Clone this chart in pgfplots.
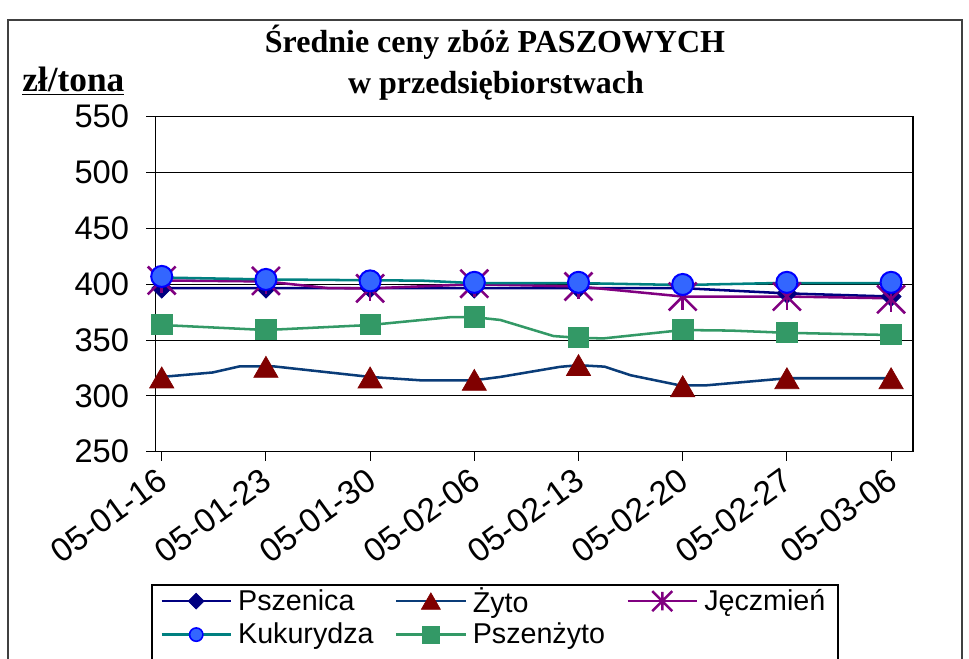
\documentclass[border=0pt]{standalone}
\usepackage{pgfplots}
\pgfplotsset{compat=1.18}
\usepackage{fontspec}
\setmainfont{Liberation Serif}
\newfontfamily\arial{Liberation Sans}

\definecolor{cPsz}{HTML}{000080}
\definecolor{cZytoL}{HTML}{0A3C78}
\definecolor{cZytoM}{HTML}{800000}
\definecolor{cJecz}{HTML}{800080}
\definecolor{cKukL}{HTML}{008080}
\definecolor{cKukM}{HTML}{3366FF}
\definecolor{cKukB}{HTML}{0000FF}
\definecolor{cPszz}{HTML}{339966}

\begin{document}
\begin{tikzpicture}
\useasboundingbox (0,0) rectangle (726.75pt,493.5pt);
\clip (0,0) rectangle (726.75pt,493.5pt);

% outer frame (bottom cut off)
\draw[black!75, line width=1.2pt] (6pt,-20pt) -- (6pt,478.5pt) -- (721.5pt,478.5pt) -- (721.5pt,-20pt);

% titles
\node[anchor=base, font=\bfseries\fontsize{24}{24}\selectfont, inner sep=0pt]
  at (371.25pt,453.75pt) {Średnie ceny zbóż PASZOWYCH};
\node[anchor=base, font=\bfseries\fontsize{24}{24}\selectfont, inner sep=0pt]
  at (372pt,423.5pt) {w przedsiębiorstwach};
\node[anchor=base west, font=\bfseries\fontsize{26.5}{26.5}\selectfont, inner sep=0pt]
  at (16.5pt,424.5pt) {\underline{zł/tona}};

% legend frame (bottom cut off)
\draw[black, line width=0.9pt] (114pt,-20pt) -- (114pt,54.75pt) -- (628.5pt,54.75pt) -- (628.5pt,-20pt);

\begin{axis}[
  at={(116.5pt,154.7pt)}, anchor=south west,
  scale only axis, width=568.3pt, height=251.25pt,
  xmin=-0.0614, xmax=7.211, ymin=250, ymax=550,
  xtick={0,1,2,3,4,5,6,7},
  xticklabels={05-01-16,05-01-23,05-01-30,05-02-06,05-02-13,05-02-20,05-02-27,05-03-06},
  ytick={250,300,350,400,450,500,550},
  tick pos=left,
  /pgf/number format/assume math mode=true,
  ymajorgrids, grid style={black, line width=0.75pt},
  tick align=outside, major tick length=6.75pt,
  tick style={black, line width=0.75pt},
  axis line style={black, line width=0.9pt},
  x tick label style={font=\arial\fontsize{25}{25}\selectfont, rotate=36, anchor=north east, inner sep=1pt, xshift=-5pt},
  y tick label style={font=\arial\fontsize{24.5}{24.5}\selectfont, inner sep=0pt, xshift=-12.75pt},
  legend style={at={(0.0062,-0.405)}, anchor=north west, draw=none, fill=none,
    inner sep=0pt, font=\arial\fontsize{21.5}{21.5}\selectfont,
    /tikz/every odd column/.append style={column sep=4.5pt},
    /tikz/every even column/.append style={column sep=16pt},
    row sep=6.5pt, nodes={inner sep=0pt}},
  legend cell align=left,
  legend columns=3,
  legend image code/.code={\draw[mark repeat=2,mark phase=2] plot coordinates {(0pt,0pt) (26pt,0pt) (52pt,0pt)};},
]
% Pszenica
\addplot[cPsz, line width=1.9pt, forget plot] coordinates {(0,396.6) (5,396.5) (6,391.8) (7,389)};
\addplot[only marks, mark=square*, mark size=5.3pt, mark options={rotate=45, fill=cPsz, draw=cPsz, line width=0.5pt}, forget plot]
  coordinates {(0,396.5) (1,396.5) (2,396.5) (3,396.5) (4,396.5) (5,396.5) (6,391.8) (7,389)};
% Zyto
\addplot[cZytoL, line width=1.9pt, forget plot] coordinates {(0,317) (0.49,321) (0.75,326.5) (1.07,326.5) (2,317) (2.48,314) (3,314) (3.25,317) (3.63,323) (3.82,326) (4,327.5) (4.25,326.2) (4.5,318.5) (4.97,309.5) (5.23,309.5) (6,315.8) (7,315.8)};
\addplot[only marks, mark=triangle*, mark size=10.5pt, mark options={fill=cZytoM, draw=cZytoM, line width=0.5pt, yshift=-2.6pt}, forget plot]
  coordinates {(0,316.5) (1,326) (2,316.5) (3,314.3) (4,327.6) (5,308.6) (6,315.8) (7,315.8)};
% Jeczmien
\addplot[cJecz, line width=1.9pt, forget plot] coordinates {(0,403.4) (1,402.5) (1.6,396.5) (2,396.3) (3,400) (4,398) (5,389) (6,389) (7,387.4)};
\addplot[only marks, mark=x, mark size=14.8pt, mark options={draw=cJecz, line width=1.9pt}, forget plot]
  coordinates {(0,403.4) (1,403) (2,396.3) (3,400.5) (4,398) (5,389) (6,389) (7,386.5)};
\addplot[only marks, mark=|, mark size=9.75pt, mark options={draw=cJecz, line width=1.9pt}, forget plot]
  coordinates {(0,403.4) (1,403) (2,396.3) (3,400.5) (4,398) (5,389) (6,389) (7,386.5)};
% Kukurydza
\addplot[cKukL, line width=1.9pt, forget plot] coordinates {(0,406) (1,404.3) (2.5,403.2) (3,401) (4,401) (5,399.3) (5.87,401) (7,401)};
\addplot[only marks, mark=*, mark size=7.9pt, mark options={fill=cKukM, draw=cKukB, line width=1.5pt}, forget plot]
  coordinates {(0,407) (1,404.3) (2,403) (3,401.7) (4,401.7) (5,399.8) (6,401.7) (7,401.7)};
% Pszenzyto
\addplot[cPszz, line width=1.9pt, forget plot] coordinates {(0,363.5) (1,359) (2,363.5) (2.77,370.5) (3,370.5) (3.25,368) (3.76,353.6) (4,352) (4.24,351.5) (5,359) (5.46,358.5) (6,356.5) (7,354.5)};
\addplot[only marks, mark=square*, mark size=7.7pt, mark options={fill=cPszz, draw=cPszz, line width=0.5pt}, forget plot]
  coordinates {(0,364) (1,359.5) (2,364) (3,371) (4,352.4) (5,359.6) (6,357) (7,355.2)};

% legend entries
\addlegendimage{cPsz, line width=1.9pt, mark=square*, mark size=4.2pt, mark options={rotate=45, fill=cPsz, line width=0.5pt}}
\addlegendentry{Pszenica}
\addlegendimage{cZytoL, line width=1.9pt, mark=triangle*, mark size=8.2pt, mark options={fill=cZytoM, draw=cZytoM, line width=0.5pt, yshift=-2pt}}
\addlegendentry{Żyto}
\addlegendimage{cJecz, line width=1.9pt, legend image code/.code={%
  \draw (0pt,0pt) -- (52pt,0pt);
  \draw (18.5pt,-7.5pt) -- (33.5pt,7.5pt) (18.5pt,7.5pt) -- (33.5pt,-7.5pt) (26pt,-7pt) -- (26pt,7pt);}}
\addlegendentry{Jęczmień}
\addlegendimage{cKukL, line width=1.9pt, mark=*, mark size=5pt, mark options={fill=cKukM, draw=cKukB, line width=1.2pt}}
\addlegendentry{Kukurydza}
\addlegendimage{cPszz, line width=1.9pt, mark=square*, mark size=6.2pt, mark options={fill=cPszz, draw=cPszz, line width=0.5pt}}
\addlegendentry{Pszenżyto}
\end{axis}
\end{tikzpicture}
\end{document}
